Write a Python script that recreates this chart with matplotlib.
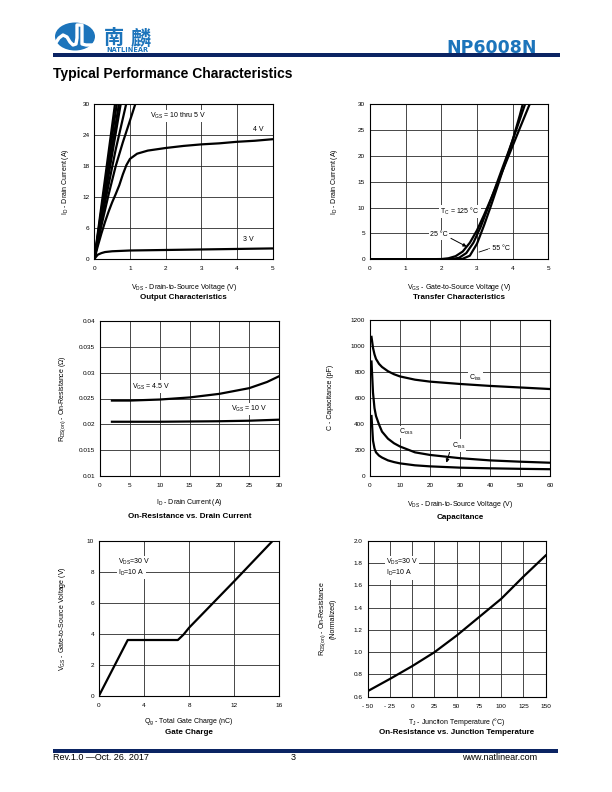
import matplotlib
matplotlib.use('Agg')
import matplotlib.pyplot as plt
from matplotlib.patches import Ellipse, Rectangle
from matplotlib.lines import Line2D

# ---------------- data ----------------
# Output characteristics (VDS in V, ID in A)
out_vds_10v = [0, 0.29, 0.58, 0.62]
out_id_10v = [0, 15.0, 30.0, 32.0]
out_vds_9v = [0, 0.315, 0.63, 0.67]
out_id_9v = [0, 15.0, 30.0, 32.0]
out_vds_8v = [0, 0.345, 0.69, 0.73]
out_id_8v = [0, 15.0, 30.0, 32.0]
out_vds_7v = [0, 0.37, 0.74, 0.78]
out_id_7v = [0, 15.0, 30.0, 32.0]
out_vds_6v = [0, 0.3, 0.6, 0.9, 0.95]
out_id_6v = [0, 11.0, 21.2, 30.2, 31.5]
out_vds_5v = [0, 0.2, 0.4, 0.6, 0.8, 1.0, 1.15, 1.2]
out_id_5v = [0, 6.5, 12.5, 18.0, 22.6, 26.8, 30.0, 31.0]
out_vds_4v = [0, 0.1, 0.2, 0.3, 0.4, 0.5, 0.6, 0.7, 0.8, 0.9, 1.0, 1.2, 1.5, 2.0, 2.5, 3.0, 3.5, 4.0, 4.5, 5.0]
out_id_4v = [0, 2.6, 5.0, 7.2, 9.2, 11.0, 12.6, 14.3, 16.4, 18.2, 19.4, 20.4, 21.0, 21.5, 21.9, 22.2, 22.4, 22.7, 22.9, 23.2]
out_vds_3v = [0, 0.05, 0.1, 0.2, 0.3, 0.5, 1.0, 2.0, 3.0, 4.0, 5.0]
out_id_3v = [0, 0.5, 0.9, 1.2, 1.4, 1.55, 1.7, 1.8, 1.9, 2.0, 2.1]

# Transfer characteristics (VGS in V, ID in A)
tr_vgs_125 = [0, 1.5, 2.0, 2.2, 2.4, 2.6, 2.8, 3.0, 3.2, 3.4, 3.6, 3.8, 4.0, 4.2, 4.45, 4.5]
tr_id_125 = [0, 0, 0.05, 0.2, 0.6, 1.5, 3.2, 5.6, 8.6, 11.8, 15.1, 18.5, 21.9, 25.3, 29.5, 30.3]
tr_vgs_25 = [0, 2.0, 2.3, 2.5, 2.7, 2.9, 3.1, 3.3, 3.5, 3.7, 3.9, 4.1, 4.3, 4.37]
tr_id_25 = [0, 0, 0.05, 0.3, 1.2, 3.2, 6.2, 9.8, 13.6, 17.4, 21.1, 25.0, 29.0, 30.4]
tr_vgs_m55 = [0, 2.4, 2.6, 2.8, 3.0, 3.2, 3.4, 3.6, 3.8, 4.0, 4.2, 4.3]
tr_id_m55 = [0, 0, 0.1, 0.7, 3.0, 6.6, 10.5, 14.6, 18.8, 23.0, 27.8, 30.4]

# On-resistance vs drain current (ID in A, RDS in ohm)
rds_id_45 = [2, 5, 10, 15, 20, 25, 28, 30]
rds_45 = [0.0246, 0.0246, 0.0248, 0.0252, 0.0259, 0.0270, 0.0282, 0.0293]
rds_id_10 = [2, 10, 20, 25, 30]
rds_10 = [0.0205, 0.0205, 0.0206, 0.0207, 0.0209]

# Capacitance (VDS in V, C in pF)
cap_vds = [0.5, 1, 1.5, 2, 3, 4, 6, 8, 10, 15, 20, 30, 40, 50, 60]
ciss = [1070, 985, 935, 900, 862, 838, 805, 782, 765, 740, 725, 707, 692, 680, 668]
coss = [880, 640, 520, 460, 395, 340, 285, 250, 225, 180, 160, 135, 118, 108, 100]
crss = [460, 270, 210, 180, 155, 140, 118, 105, 95, 80, 72, 62, 57, 53, 50]

# Gate charge (Qg in nC, VGS in V)
gc_qg = [0, 2.55, 7.0, 7.5, 8.0, 12.0, 15.4]
gc_vgs = [0, 3.6, 3.6, 3.95, 4.4, 7.4, 10.0]

# On-resistance vs junction temperature
tj = [-50, -25, 0, 25, 50, 75, 100, 125, 150]
rds_norm = [0.65, 0.76, 0.875, 1.0, 1.15, 1.315, 1.48, 1.68, 1.87]

# tick labels
t_x_tj = ['- 50', '- 25', '0', '25', '50', '75', '100', '125', '150']
t_y_rds = ['0.01', '0.015', '0.02', '0.025', '0.03', '0.035', '0.04']
t_y_norm = ['0.6', '0.8', '1.0', '1.2', '1.4', '1.6', '1.8', '2.0']

# ---------------- figure ----------------
W, H = 612, 792
plt.rcParams['font.family'] = ['Liberation Sans', 'DejaVu Sans']
plt.rcParams['mathtext.fontset'] = 'custom'
plt.rcParams['mathtext.rm'] = 'Liberation Sans'
plt.rcParams['mathtext.it'] = 'Liberation Sans:italic'
plt.rcParams['mathtext.bf'] = 'Liberation Sans:bold'

fig = plt.figure(figsize=(6.12, 7.92), dpi=100)
fig.patch.set_facecolor('white')


def fx(x):
    return x / W


def fy(y):
    return 1 - y / H


NAVY = '#0b2463'
BLUE = '#1c74bb'
CJK = ['Noto Sans CJK SC', 'DejaVu Sans']

# header
fig.patches.append(Ellipse((fx(75), fy(36.5)), 40 / W, 28 / H, transform=fig.transFigure,
                           facecolor=BLUE, edgecolor='none'))
wave_x = [55, 59, 63, 67, 70, 73, 76, 77, 77, 82, 82, 86, 94]
wave_y = [44, 38, 35, 37, 42, 45, 44, 38, 25, 25, 44, 45, 45]
fig.add_artist(Line2D([fx(v) for v in wave_x], [fy(v) for v in wave_y], transform=fig.transFigure,
                      color='white', lw=2.4, solid_joinstyle='round'))
fig.text(fx(113.5), fy(38), '南', family=CJK, fontsize=14.5, color=BLUE,
         fontweight='bold', ha='center', va='center')
fig.text(fx(141), fy(38), '麟', family=CJK, fontsize=14.5, color=BLUE,
         fontweight='bold', ha='center', va='center')
fig.text(fx(127), fy(50.3), 'NATLINEAR', family=['DejaVu Sans'], fontsize=4.8, color=BLUE,
         fontweight='bold', ha='center', va='center')
fig.text(fx(446), fy(48), 'NP6008N', family=['DejaVu Sans'], fontsize=12.5, color=BLUE,
         fontweight='bold', ha='left', va='center')
fig.patches.append(Rectangle((fx(53), fy(56.5)), (560 - 53) / W, 3.5 / H, transform=fig.transFigure,
                             facecolor=NAVY, edgecolor='none'))
fig.text(fx(53), fy(74), 'Typical Performance Characteristics', fontsize=10, fontweight='bold',
         ha='left', va='center')

# footer
fig.patches.append(Rectangle((fx(53), fy(753)), (558 - 53) / W, 4 / H, transform=fig.transFigure,
                             facecolor=NAVY, edgecolor='none'))
fig.text(fx(53), fy(758), 'Rev.1.0 \u2014Oct. 26. 2017', fontsize=6.5, ha='left', va='center')
fig.text(fx(293), fy(758), '3', fontsize=6.5, ha='center', va='center')
fig.text(fx(537), fy(758), 'www.natlinear.com', fontsize=6.5, ha='right', va='center')

LW = 1.6
TICK_FS = 4.6
LAB_FS = 5.0
TITLE_FS = 5.8
WHITE_BOX = dict(facecolor='white', edgecolor='none', pad=0.8)
CURVE = dict(color='black', lw=LW, zorder=4)


def make_ax(l, t, r, b, xlim, ylim, xticks, yticks, xlabel, ylabel, title,
            xlab_y, title_y, ylab_x, xticklabels=None, yticklabels=None):
    ax = fig.add_axes([fx(l), fy(b), (r - l) / W, (b - t) / H])
    ax.set_xlim(xlim)
    ax.set_ylim(ylim)
    ax.set_xticks(xticks)
    ax.set_yticks(yticks)
    if xticklabels is not None:
        ax.set_xticklabels(xticklabels)
    if yticklabels is not None:
        ax.set_yticklabels(yticklabels)
    ax.tick_params(axis='both', length=0, labelsize=TICK_FS)
    ax.tick_params(axis='x', pad=5)
    ax.tick_params(axis='y', pad=3.5)
    ax.grid(True, color='#2a2a2a', lw=0.6)
    ax.set_axisbelow(True)
    for s in ax.spines.values():
        s.set_linewidth(0.8)
        s.set_zorder(5)
    ax.set_xlabel(xlabel, fontsize=LAB_FS, va='center')
    ax.xaxis.set_label_coords(0.5, (b - xlab_y) / (b - t))
    ax.set_ylabel(ylabel, fontsize=LAB_FS, va='center', ha='center', multialignment='center')
    ax.yaxis.set_label_coords((ylab_x - l) / (r - l), 0.5)
    fig.text(fx((l + r) / 2), fy(title_y), title, fontsize=TITLE_FS, fontweight='bold',
             ha='center', va='center')
    return ax


def label(ax, x, y, s, ha='left'):
    ax.text(x, y, s, fontsize=LAB_FS, ha=ha, va='center', bbox=WHITE_BOX, zorder=3)


# 1. Output characteristics
ax1 = make_ax(94.3, 104, 272.7, 259.3, (0, 5), (0, 30), range(0, 6), range(0, 31, 6),
              r'V$_{\rm DS}$ - Drain-to-Source Voltage (V)', r'I$_{\rm D}$ - Drain Current (A)',
              'Output Characteristics', 287, 297.5, 65)
for xs, ys in [(out_vds_10v, out_id_10v), (out_vds_9v, out_id_9v), (out_vds_8v, out_id_8v),
               (out_vds_7v, out_id_7v), (out_vds_6v, out_id_6v), (out_vds_5v, out_id_5v),
               (out_vds_4v, out_id_4v), (out_vds_3v, out_id_3v)]:
    ax1.plot(xs, ys, solid_capstyle='round', **CURVE)
label(ax1, 1.56, 27.7, r'V$_{\rm GS}$ = 10 thru 5 V')
label(ax1, 4.6, 25.0, '4 V', ha='center')
label(ax1, 4.33, 3.9, '3 V', ha='center')

# 2. Transfer characteristics
ax2 = make_ax(370, 104, 548.3, 259.3, (0, 5), (0, 30), range(0, 6), range(0, 31, 5),
              r'V$_{\rm GS}$ - Gate-to-Source Voltage (V)', r'I$_{\rm D}$ - Drain Current (A)',
              'Transfer Characteristics', 287, 297.5, 335)
for xs, ys in [(tr_vgs_125, tr_id_125), (tr_vgs_25, tr_id_25), (tr_vgs_m55, tr_id_m55)]:
    ax2.plot(xs, ys, **CURVE)
label(ax2, 1.97, 9.2, r'T$_{\rm C}$ = 125 °C')
label(ax2, 1.68, 4.7, '25 °C')
ax2.annotate('', xy=(2.78, 2.2), xytext=(2.2, 4.3),
             arrowprops=dict(arrowstyle='-|>', color='black', lw=0.7, mutation_scale=5), zorder=5)
label(ax2, 3.32, 2.0, '- 55 °C')
ax2.plot([3.06, 3.3], [1.4, 1.95], color='black', lw=0.6, zorder=5)

# 3. On-resistance vs drain current
ax3 = make_ax(100, 321, 279, 476, (0, 30), (0.01, 0.04), range(0, 31, 5),
              [0.01, 0.015, 0.02, 0.025, 0.03, 0.035, 0.04],
              r'I$_{\rm D}$ - Drain Current (A)', r'R$_{\rm DS(on)}$ - On-Resistance (Ω)',
              'On-Resistance vs. Drain Current', 503, 516.5, 63, yticklabels=t_y_rds)
ax3.plot(rds_id_45, rds_45, **CURVE)
ax3.plot(rds_id_10, rds_10, **CURVE)
label(ax3, 5.4, 0.0273, r'V$_{\rm GS}$ = 4.5 V')
label(ax3, 22.0, 0.0230, r'V$_{\rm GS}$ = 10 V')

# 4. Capacitance
ax4 = make_ax(370, 320, 550, 475.7, (0, 60), (0, 1200), range(0, 61, 10), range(0, 1201, 200),
              r'V$_{\rm DS}$ - Drain-to-Source Voltage (V)', 'C - Capacitance (pF)',
              'Capacitance', 504, 517.5, 331)
ax4.plot(cap_vds, ciss, **CURVE)
ax4.plot(cap_vds, coss, **CURVE)
ax4.plot(cap_vds, crss, **CURVE)
label(ax4, 33.0, 750, r'C$_{\rm iss}$')
label(ax4, 9.8, 335, r'C$_{\rm oss}$')
label(ax4, 27.2, 232, r'C$_{\rm rss}$')
ax4.annotate('', xy=(25.2, 80), xytext=(26.8, 200),
             arrowprops=dict(arrowstyle='-|>', color='black', lw=0.7, mutation_scale=5), zorder=5)

# 5. Gate charge
ax5 = make_ax(99, 541, 279.3, 695.7, (0, 16), (0, 10), range(0, 17, 4), range(0, 11, 2),
              r'Q$_{\rm g}$ - Total Gate Charge (nC)', r'V$_{\rm GS}$ - Gate-to-Source Voltage (V)',
              'Gate Charge', 722, 732.5, 62)
ax5.plot(gc_qg, gc_vgs, **CURVE)
label(ax5, 1.72, 8.66, r'V$_{\rm DS}$=30 V')
label(ax5, 1.72, 7.97, r'I$_{\rm D}$=10 A')

# 6. On-resistance vs junction temperature
ax6 = make_ax(367.7, 541, 545.7, 696.7, (-50, 150), (0.6, 2.0), range(-50, 151, 25),
              [0.6, 0.8, 1.0, 1.2, 1.4, 1.6, 1.8, 2.0],
              r'T$_{\rm J}$ - Junction Temperature (°C)',
              'R$_{\\rm DS(on)}$ - On-Resistance\n(Normalized)',
              'On-Resistance vs. Junction Temperature', 722, 732.5, 327,
              xticklabels=t_x_tj, yticklabels=t_y_norm)
ax6.plot(tj, rds_norm, **CURVE)
label(ax6, -29.4, 1.808, r'V$_{\rm DS}$=30 V')
label(ax6, -29.4, 1.709, r'I$_{\rm D}$=10 A')

fig.savefig('out.png', dpi=100, facecolor='white')
